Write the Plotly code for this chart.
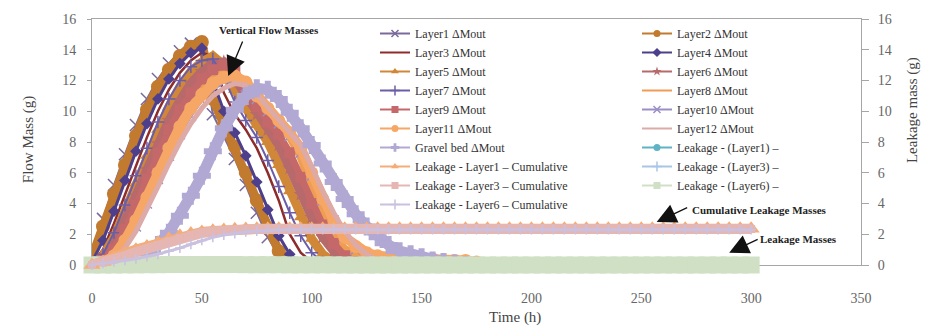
import plotly.graph_objects as go

# ---------------- data ----------------
TIME_FLOW = list(range(0, 185, 5))      # h, 0..180
TIME_LEAK = list(range(0, 305, 5))      # h, 0..300

layer1 = [0.7, 3.0, 5.2, 7.2, 9.1, 10.8, 12.1, 13.1, 13.9, 14.4, 14.2, 9.8, 8.4, 6.9, 5.2, 3.4, 1.8, 0.6, 0.1, 0.0]
layer2 = [0.5, 2.5, 4.6, 6.5, 8.4, 10.1, 11.6, 12.7, 13.6, 14.2, 14.5, 10.8, 9.1, 7.7, 6.0, 4.2, 2.4, 0.9, 0.2, 0.0]
layer3 = [0.1, 1.0, 2.7, 4.6, 6.5, 8.3, 10.0, 11.4, 12.5, 13.3, 13.8, 13.6, 11.2, 9.8, 8.8, 7.6, 6.0, 4.2, 2.0, 0.8, 0.2, 0.0]
layer4 = [0.2, 1.6, 3.5, 5.5, 7.4, 9.2, 10.8, 12.1, 13.1, 13.8, 14.1, 12.0, 10.0, 8.6, 7.1, 5.4, 3.6, 1.9, 0.7, 0.1, 0.0]
layer5 = [0.0, 0.6, 1.8, 3.5, 5.3, 7.1, 8.8, 10.3, 11.6, 12.6, 13.2, 13.6, 13.0, 11.4, 10.2, 9.1, 8.0, 6.5, 4.8, 3.1, 1.7, 0.7, 0.2, 0.0]
layer6 = [0.0, 0.4, 1.3, 2.8, 4.5, 6.2, 7.9, 9.4, 10.7, 11.8, 12.6, 13.1, 13.2, 12.1, 10.9, 9.8, 8.8, 7.8, 6.3, 4.6, 3.1, 1.8, 0.9, 0.3, 0.0]
layer7 = [0.0, 0.7, 2.1, 3.9, 5.8, 7.6, 9.3, 10.8, 12.0, 12.9, 13.3, 13.4, 12.2, 10.6, 9.4, 8.3, 6.8, 5.1, 3.4, 1.9, 0.8, 0.2, 0.0]
layer8 = [0.0, 0.2, 0.8, 1.8, 3.2, 4.8, 6.4, 7.9, 9.3, 10.5, 11.4, 12.1, 12.5, 12.5, 11.6, 10.6, 9.7, 9.0, 8.4, 7.1,
          5.2, 3.2, 1.8, 1.0, 0.7, 0.5, 0.4, 0.4, 0.3, 0.3, 0.3, 0.2, 0.2, 0.2, 0.1, 0.1, 0.0]
layer9 = [0.0, 0.3, 1.0, 2.3, 3.9, 5.6, 7.3, 8.8, 10.1, 11.2, 12.1, 12.7, 13.0, 12.6, 11.4, 10.3, 9.3, 8.5, 7.3, 5.7,
          4.0, 2.6, 1.4, 0.6, 0.2, 0.0]
layer10 = [0.0, 0.1, 0.5, 1.3, 2.5, 4.0, 5.6, 7.1, 8.5, 9.7, 10.7, 11.4, 11.9, 12.0, 11.6, 10.8, 10.0, 9.2, 8.4, 7.3,
           5.8, 4.2, 2.9, 1.8, 1.0, 0.5, 0.2, 0.0]
layer11 = [0.0, 0.1, 0.6, 1.6, 2.9, 4.4, 6.0, 7.6, 9.0, 10.2, 11.1, 11.8, 12.2, 12.3, 11.9, 11.0, 10.2, 9.4, 8.6, 7.6,
           6.0, 4.3, 2.9, 1.8, 1.2, 0.8, 0.6, 0.5, 0.5, 0.4, 0.4, 0.4, 0.3, 0.3, 0.3, 0.2, 0.0]
layer12 = [0.0, 0.0, 0.4, 1.1, 2.2, 3.6, 5.1, 6.6, 8.0, 9.2, 10.2, 11.0, 11.5, 11.8, 11.7, 11.1, 10.3, 9.5, 8.7, 7.8,
           6.4, 4.8, 3.4, 2.2, 1.3, 0.7, 0.3, 0.1, 0.0]
gravel_bed = [0.0, 0.0, 0.0, 0.1, 0.3, 0.7, 1.3, 2.1, 3.2, 4.5, 5.8, 7.4, 8.9, 10.1, 11.0, 11.5, 11.4, 10.8, 9.9, 8.9,
              7.8, 6.6, 5.4, 4.3, 3.3, 2.5, 1.8, 1.3, 0.9, 0.7, 0.5, 0.3, 0.2, 0.1, 0.0]

cum_layer1 = [0.0, 0.2, 0.45, 0.75, 1.0, 1.2, 1.45, 1.7, 1.9, 2.05, 2.15, 2.22, 2.28, 2.32, 2.34, 2.35, 2.35, 2.35, 2.35, 2.35,
              2.35, 2.35, 2.35, 2.35, 2.35, 2.35, 2.35, 2.35, 2.35, 2.35, 2.35, 2.35, 2.35, 2.35, 2.35, 2.35, 2.35, 2.35, 2.35, 2.35,
              2.35, 2.35, 2.35, 2.35, 2.35, 2.35, 2.35, 2.35, 2.35, 2.35, 2.35, 2.35, 2.35, 2.35, 2.35, 2.35, 2.35, 2.35, 2.35, 2.35,
              2.35]
cum_layer3 = [0.0, 0.15, 0.35, 0.6, 0.85, 1.05, 1.3, 1.55, 1.75, 1.95, 2.08, 2.18, 2.25, 2.3, 2.33, 2.34, 2.34, 2.34, 2.34, 2.34,
              2.34, 2.34, 2.34, 2.34, 2.34, 2.34, 2.34, 2.34, 2.34, 2.34, 2.34, 2.34, 2.34, 2.34, 2.34, 2.34, 2.34, 2.34, 2.34, 2.34,
              2.34, 2.34, 2.34, 2.34, 2.34, 2.34, 2.34, 2.34, 2.34, 2.34, 2.34, 2.34, 2.34, 2.34, 2.34, 2.34, 2.34, 2.34, 2.34, 2.34,
              2.34]
cum_layer6 = [0.0, 0.1, 0.2, 0.3, 0.4, 0.55, 0.7, 0.9, 1.1, 1.35, 1.6, 1.8, 1.95, 2.05, 2.15, 2.2, 2.25, 2.28, 2.3, 2.3,
              2.3, 2.3, 2.3, 2.3, 2.3, 2.3, 2.3, 2.3, 2.3, 2.3, 2.3, 2.3, 2.3, 2.3, 2.3, 2.3, 2.3, 2.3, 2.3, 2.3,
              2.3, 2.3, 2.3, 2.3, 2.3, 2.3, 2.3, 2.3, 2.3, 2.3, 2.3, 2.3, 2.3, 2.3, 2.3, 2.3, 2.3, 2.3, 2.3, 2.3,
              2.3]
leak_layer1 = [0.0, 0.0, 0.0, 0.01, 0.02, 0.03, 0.04, 0.05, 0.05, 0.05, 0.05, 0.04, 0.04, 0.03, 0.03, 0.02, 0.02, 0.01, 0.01, 0.0,
               0.0, 0.0, 0.0, 0.0, 0.0, 0.0, 0.0, 0.0, 0.0, 0.0, 0.0, 0.0, 0.0, 0.0, 0.0, 0.0, 0.0, 0.0, 0.0, 0.0,
               0.0, 0.0, 0.0, 0.0, 0.0, 0.0, 0.0, 0.0, 0.0, 0.0, 0.0, 0.0, 0.0, 0.0, 0.0, 0.0, 0.0, 0.0, 0.0, 0.0,
               0.0]
leak_layer3 = [0.0, 0.0, 0.01, 0.02, 0.03, 0.03, 0.04, 0.04, 0.04, 0.04, 0.03, 0.03, 0.03, 0.02, 0.02, 0.02, 0.01, 0.01, 0.01, 0.0,
               0.0, 0.0, 0.0, 0.0, 0.0, 0.0, 0.0, 0.0, 0.0, 0.0, 0.0, 0.0, 0.0, 0.0, 0.0, 0.0, 0.0, 0.0, 0.0, 0.0,
               0.0, 0.0, 0.0, 0.0, 0.0, 0.0, 0.0, 0.0, 0.0, 0.0, 0.0, 0.0, 0.0, 0.0, 0.0, 0.0, 0.0, 0.0, 0.0, 0.0,
               0.0]
leak_layer6 = [0.0, 0.0, 0.0, 0.01, 0.01, 0.02, 0.02, 0.03, 0.03, 0.03, 0.03, 0.03, 0.03, 0.03, 0.02, 0.02, 0.02, 0.02, 0.01, 0.01,
               0.01, 0.01, 0.01, 0.0, 0.0, 0.0, 0.0, 0.0, 0.0, 0.0, 0.0, 0.0, 0.0, 0.0, 0.0, 0.0, 0.0, 0.0, 0.0, 0.0,
               0.0, 0.0, 0.0, 0.0, 0.0, 0.0, 0.0, 0.0, 0.0, 0.0, 0.0, 0.0, 0.0, 0.0, 0.0, 0.0, 0.0, 0.0, 0.0, 0.0,
               0.0]

# ---------------- styles ----------------
FONT = "Liberation Serif"
# name, values, color, line width, marker symbol, marker size
flow_series = [
    ("Layer1 ΔMout", layer1, "#7a6a9c", 2, "x-thin", 12),
    ("Layer2 ΔMout", layer2, "#c27a2e", 9, "circle", 14),
    ("Layer3 ΔMout", layer3, "#8e2b2b", 2.5, None, 0),
    ("Layer4 ΔMout", layer4, "#4d3f8c", 3, "diamond", 9),
    ("Layer5 ΔMout", layer5, "#d08838", 9, "triangle-up", 12),
    ("Layer6 ΔMout", layer6, "#b66a6c", 9, "star", 11),
    ("Layer7 ΔMout", layer7, "#6c5da8", 2, "cross-thin", 9),
    ("Layer8 ΔMout", layer8, "#ef9d52", 9, None, 0),
    ("Layer9 ΔMout", layer9, "#c4686a", 7, "square", 11),
    ("Layer10 ΔMout", layer10, "#9c8fc6", 3, "x-thin", 10),
    ("Layer11 ΔMout", layer11, "#f6a766", 10, "circle", 13),
    ("Layer12 ΔMout", layer12, "#dcaaa8", 5, None, 0),
    ("Gravel bed ΔMout", gravel_bed, "#b1a8d3", 11, "cross", 15),
]
leak_series = [
    ("Leakage - (Layer1) –", leak_layer1, "#5fb3c4", 3, "circle", 9),
    ("Leakage - (Layer3) –", leak_layer3, "#a9c6e6", 3, "cross-thin", 10),
    ("Leakage - (Layer6) –", leak_layer6, "#cfe0c4", 6, "square", 17),
]
cum_series = [
    ("Leakage - Layer1 – Cumulative", cum_layer1, "#f4ac78", 10, "triangle-up", 15),
    ("Leakage - Layer3 – Cumulative", cum_layer3, "#e6b6b2", 10, "square", 8),
    ("Leakage - Layer6 – Cumulative", cum_layer6, "#c9c1df", 3, "cross-thin", 7),
]

def marker_for(sym, size, color):
    if sym is None:
        return None
    if sym.endswith("-thin"):
        return dict(symbol=sym, size=size, color=color, line=dict(color=color, width=1.5))
    return dict(symbol=sym, size=size, color=color, line=dict(width=0))

fig = go.Figure()

for name, vals, color, lw, sym, ms in flow_series:
    fig.add_trace(go.Scatter(
        x=TIME_FLOW[:len(vals)], y=vals, name=name, showlegend=False,
        mode="lines+markers" if sym else "lines",
        line=dict(color=color, width=lw),
        marker=marker_for(sym, ms, color),
    ))

for name, vals, color, lw, sym, ms in leak_series:
    fig.add_trace(go.Scatter(
        x=TIME_LEAK[:len(vals)], y=vals, name=name, showlegend=False, yaxis="y2",
        mode="lines+markers", cliponaxis=False,
        line=dict(color=color, width=lw),
        marker=marker_for(sym, ms, color),
    ))

for name, vals, color, lw, sym, ms in cum_series:
    fig.add_trace(go.Scatter(
        x=TIME_LEAK[:len(vals)], y=vals, name=name, showlegend=False, yaxis="y2",
        mode="lines+markers", cliponaxis=False,
        line=dict(color=color, width=lw),
        marker=marker_for(sym, ms, color),
    ))

# legend entries (thin sample lines, small markers), in the reference's row order
legend_order = [s for s in flow_series] + [
    leak_series[0], cum_series[0], leak_series[1], cum_series[1], leak_series[2], cum_series[2]]
for name, vals, color, lw, sym, ms in legend_order:
    fig.add_trace(go.Scatter(
        x=[None], y=[None], name=name, showlegend=True,
        mode="lines+markers" if sym else "lines",
        line=dict(color=color, width=2),
        marker=marker_for(sym, 7, color),
    ))

AX = "#a6a6a6"
TICKFONT = dict(family=FONT, size=14, color="#666666")

fig.update_layout(
    width=932, height=335,
    margin=dict(l=92, r=71, t=17, b=70),
    paper_bgcolor="white", plot_bgcolor="white",
    font=dict(family=FONT, color="#333333"),
    xaxis=dict(range=[0, 350], dtick=50, tick0=0, showgrid=False, zeroline=False,
               showline=True, mirror=True, linecolor=AX, linewidth=1, ticks="",
               ticklabelstandoff=20, tickfont=TICKFONT, layer="below traces"),
    yaxis=dict(range=[0, 16], dtick=2, showgrid=False, zeroline=False,
               showline=True, linecolor=AX, ticks="outside", ticklen=4, tickcolor=AX,
               ticklabelstandoff=8, tickfont=TICKFONT, layer="below traces"),
    yaxis2=dict(range=[0, 16], dtick=2, overlaying="y", side="right", showgrid=False,
                zeroline=False, showline=True, linecolor=AX, ticks="outside", ticklen=7,
                tickcolor=AX, ticklabelstandoff=6, tickfont=TICKFONT, layer="below traces"),
    legend=dict(orientation="h", x=0.368, xanchor="left", y=1.0, yanchor="top",
                entrywidth=217, bgcolor="rgba(0,0,0,0)", tracegroupgap=0, maxheight=1,
                font=dict(family=FONT, size=12, color="#333333")),
    showlegend=True,
)

ANN_FONT = dict(family=FONT, size=11, color="#222222")
annotations = [
    # axis titles
    dict(text="Flow Mass (g)", xref="paper", yref="paper", x=-0.096, y=0.51, textangle=-90,
         showarrow=False, font=dict(family=FONT, size=15, color="#444444")),
    dict(text="Leakage mass (g)", xref="paper", yref="paper", x=1.08, y=0.63, textangle=-90,
         showarrow=False, font=dict(family=FONT, size=15, color="#444444")),
    dict(text="Time (h)", xref="paper", yref="paper", x=0.55, y=-0.258,
         showarrow=False, font=dict(family=FONT, size=15, color="#444444")),
    # callout texts
    dict(text="<b>Vertical Flow Masses</b>", xref="x", yref="y", x=57, y=15.3, xanchor="left",
         showarrow=False, font=ANN_FONT),
    dict(text="<b>Cumulative Leakage Masses</b>", xref="x", yref="y", x=272, y=3.55, xanchor="left",
         showarrow=False, font=ANN_FONT),
    dict(text="<b>Leakage Masses</b>", xref="x", yref="y", x=303, y=1.7, xanchor="left",
         showarrow=False, font=ANN_FONT),
    # callout arrows
    dict(text="", xref="x", yref="y", x=62, y=12.3, ax=15, ay=-36, showarrow=True,
         arrowhead=2, arrowsize=3, arrowwidth=1.3, arrowcolor="#111111"),
    dict(text="", xref="x", yref="y", x=257, y=2.8, ax=32, ay=-15, showarrow=True,
         arrowhead=2, arrowsize=3, arrowwidth=1.3, arrowcolor="#111111"),
    dict(text="", xref="x", yref="y", x=290, y=0.8, ax=30, ay=-14, showarrow=True,
         arrowhead=2, arrowsize=3, arrowwidth=1.3, arrowcolor="#111111"),
]
fig.update_layout(annotations=annotations)

fig.write_html("out.html")
